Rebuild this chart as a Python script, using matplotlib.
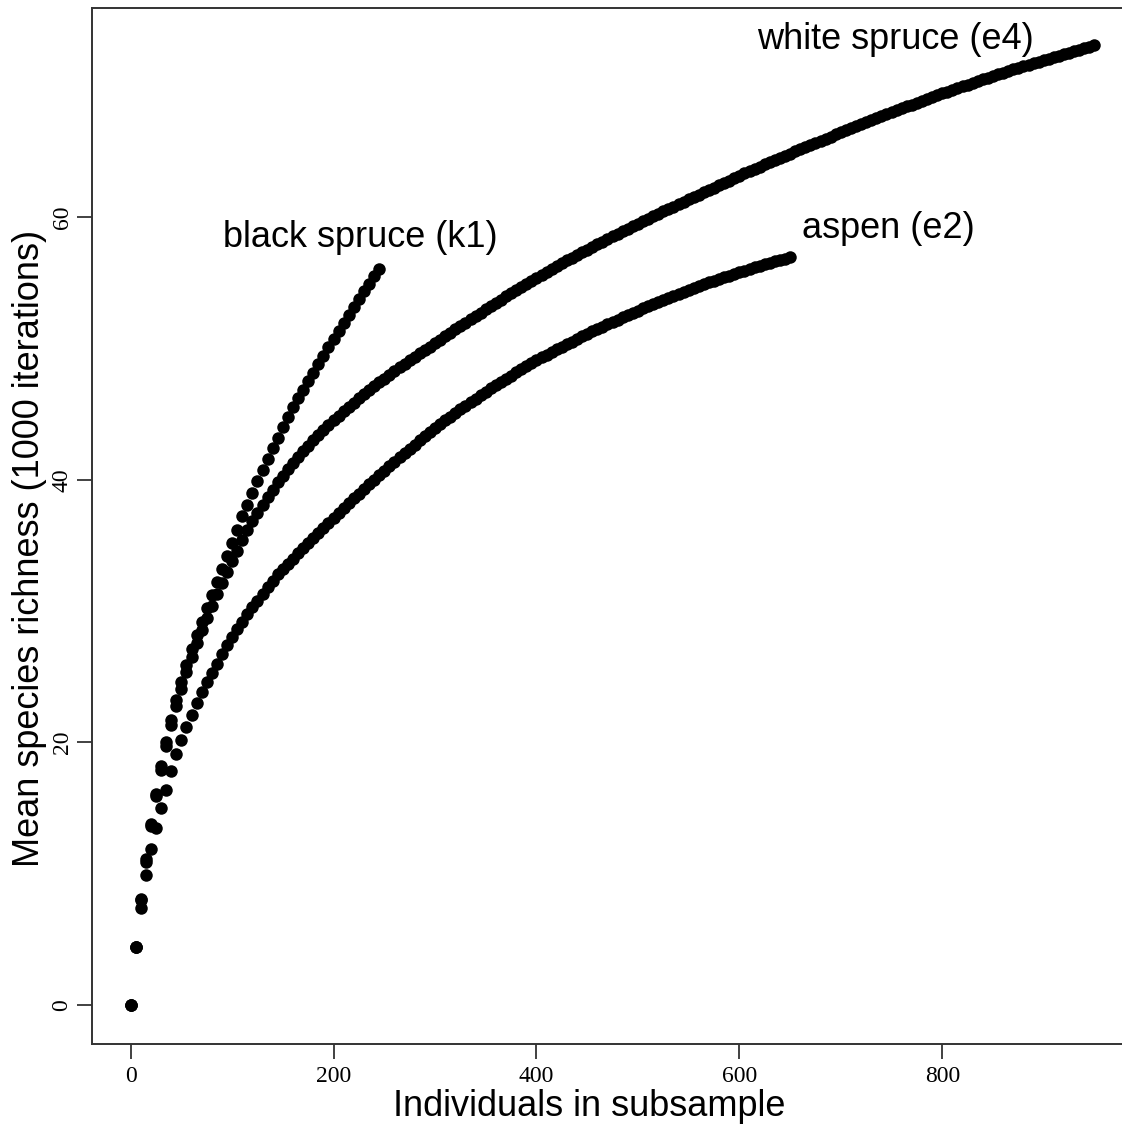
import matplotlib
matplotlib.use("Agg")
import matplotlib.pyplot as plt

# ---- data: mean species richness at subsample sizes 0,5,10,... ----
step = 5

white_spruce = [
    0, 4.4, 8.0, 10.9, 13.6, 15.9, 17.9, 19.7, 21.3, 22.8, 24.1, 25.35, 26.5, 27.55, 28.55, 29.5, 30.4, 31.3, 32.15, 33.0, 33.8,
    34.6, 35.4, 36.15, 36.85, 37.5, 38.1, 38.7, 39.25, 39.8, 40.3, 40.8, 41.25, 41.7, 42.15, 42.6, 43.0, 43.4, 43.8,
    44.17, 44.53, 44.88, 45.22, 45.55, 45.87, 46.19, 46.5, 46.81, 47.11,
    47.41, 47.7, 47.99, 48.27, 48.55, 48.83, 49.1, 49.37, 49.63, 49.89, 50.14, 50.39,
    50.66, 50.92, 51.18, 51.44, 51.7, 51.96, 52.22, 52.47, 52.72, 52.97, 53.22, 53.47, 53.72,
    53.96, 54.2, 54.44, 54.67, 54.9, 55.13, 55.36, 55.59, 55.82, 56.04, 56.26, 56.48, 56.7,
    56.91, 57.12, 57.33, 57.53, 57.73, 57.93, 58.13, 58.33, 58.53, 58.72, 58.91, 59.1, 59.29,
    59.48, 59.67, 59.86, 60.05, 60.24, 60.43, 60.62, 60.8, 60.98, 61.16, 61.34, 61.52, 61.7,
    61.88, 62.06, 62.24, 62.42, 62.6, 62.78, 62.96, 63.14, 63.32, 63.5,
    63.67, 63.84, 64.01, 64.18, 64.34, 64.51, 64.67, 64.84, 65.0, 65.17, 65.33, 65.49, 65.65, 65.81, 65.97, 66.13, 66.29, 66.45, 66.61, 66.77,
    66.92, 67.08, 67.23, 67.38, 67.53, 67.68, 67.83, 67.98, 68.13, 68.28, 68.43, 68.57, 68.72, 68.86, 69.0, 69.14, 69.28, 69.42, 69.55, 69.69,
    69.82, 69.96, 70.09, 70.22, 70.35, 70.48, 70.61, 70.74, 70.87, 70.99, 71.12, 71.24, 71.36, 71.48, 71.6, 71.72, 71.84, 71.96, 72.07, 72.19,
    72.3, 72.42, 72.53, 72.64, 72.75, 72.86, 72.96, 73.07,
]

aspen = [
    0, 4.4, 7.4, 9.9, 11.9, 13.5, 15.0, 16.4, 17.8, 19.1, 20.2, 21.2, 22.1, 23.0, 23.8, 24.6, 25.3, 26.0, 26.7, 27.4, 28.0,
    28.6, 29.2, 29.8, 30.3, 30.8, 31.3, 31.8, 32.3, 32.8, 33.2, 33.6, 34.0, 34.4, 34.8,
    35.19, 35.58, 35.96, 36.34, 36.72, 37.1, 37.47, 37.84, 38.21, 38.58,
    38.94, 39.3, 39.65, 40.0, 40.35, 40.7,
    41.04, 41.38, 41.71, 42.04, 42.36, 42.68, 43.0,
    43.31, 43.62, 43.92, 44.22, 44.51, 44.8, 45.08,
    45.36, 45.63, 45.9, 46.17, 46.43, 46.69, 46.95, 47.2,
    47.45, 47.69, 47.93, 48.17, 48.4, 48.63, 48.86, 49.08,
    49.31, 49.52, 49.72, 49.92, 50.12, 50.32, 50.52, 50.72, 50.91, 51.1,
    51.29, 51.47, 51.65, 51.83, 52.01, 52.19, 52.37, 52.54, 52.71, 52.88,
    53.05, 53.21, 53.37, 53.53, 53.69, 53.85, 54.0, 54.15, 54.3, 54.45,
    54.6, 54.74, 54.88, 55.02, 55.16, 55.29, 55.42, 55.55, 55.68, 55.8,
    55.92, 56.04, 56.16, 56.28, 56.4, 56.51, 56.62, 56.73, 56.84, 56.95,
]

black_spruce = [
    0, 4.4, 8.1, 11.1, 13.8, 16.1, 18.2, 20.0, 21.7, 23.2, 24.6, 25.9, 27.1, 28.2, 29.2, 30.2, 31.2, 32.2, 33.2, 34.2, 35.2,
    36.2, 37.2, 38.1, 39.0, 39.9, 40.75, 41.6, 42.4, 43.2, 44.0, 44.75, 45.5, 46.2, 46.85, 47.5,
    48.16, 48.81, 49.45, 50.09, 50.72, 51.34, 51.96, 52.57, 53.17, 53.76, 54.35, 54.93, 55.5, 56.07,
]

labels = ["white spruce (e4)", "aspen (e2)", "black spruce (k1)"]
label_pos = [(617.3, 72.8), (661.4, 58.4), (91.3, 57.7)]

xticks = [0, 200, 400, 600, 800]
yticks = [0, 20, 40, 60]

x_title = "Individuals in subsample"
y_title = "Mean species richness (1000 iterations)"

# ---- figure ----
W, H = 1122, 1126
fig = plt.figure(figsize=(W / 100, H / 100), dpi=100)
L, R, T, B = 92, 1132, 8, 1044
ax = fig.add_axes([L / W, 1 - B / H, (R - L) / W, (B - T) / H])

for series in (white_spruce, aspen, black_spruce):
    n = [i * step for i in range(len(series))]
    ax.plot(n, series, linestyle="none", marker="o", markersize=9,
            markeredgewidth=0, color="black")

ax.set_xlim(-38.1, 987.0)
ax.set_ylim(-2.97, 75.92)

ax.set_xticks(xticks)
ax.set_yticks(yticks)
ax.set_xticklabels([str(v) for v in xticks], family="Liberation Serif", fontsize=17)
ax.set_yticklabels([str(v) for v in yticks], family="Liberation Serif", fontsize=17,
                   rotation=90, va="center")
ax.tick_params(axis="both", direction="out", length=10.5, width=1.3, color="#333333")
ax.tick_params(axis="x", pad=5)
ax.tick_params(axis="y", pad=3.5)
for sp in ax.spines.values():
    sp.set_linewidth(1.4)
    sp.set_color("#333333")

for txt, (xx, yy) in zip(labels, label_pos):
    ax.text(xx, yy, txt, ha="left", va="baseline", family="Liberation Sans",
            fontsize=26, color="black")

fig.text(589 / W, 1 - 1116 / H, x_title, ha="center", va="baseline",
         family="Liberation Sans", fontsize=26)
fig.text(39 / W, 1 - 548.5 / H, y_title, ha="center", va="baseline",
         rotation=90, rotation_mode="anchor", family="Liberation Sans", fontsize=26)

fig.savefig("out.png", dpi=100)
